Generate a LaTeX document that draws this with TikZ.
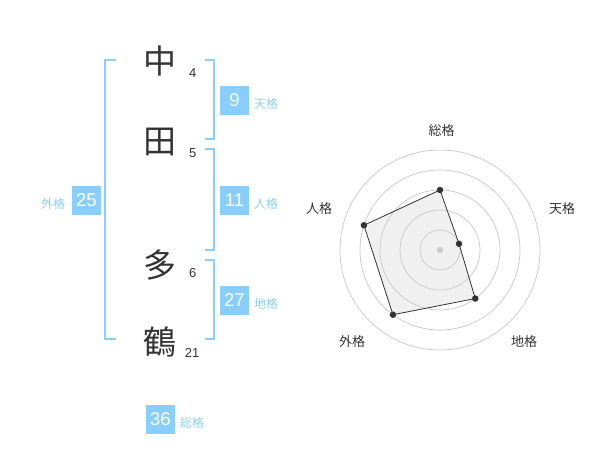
\documentclass[tikz,border=0pt]{standalone}
\usepackage{fontspec}
\setmainfont{Liberation Sans}
\newfontfamily\jp{Noto Sans CJK JP}
\definecolor{boxblue}{HTML}{88CEFF}
\definecolor{lblblue}{HTML}{8CCFF8}
\definecolor{ink}{HTML}{333333}
\definecolor{ringgray}{HTML}{CCCCCC}
\definecolor{polyfill}{HTML}{F0F0F0}
\tikzset{
  kanji/.style={font=\jp\fontsize{33}{33}\selectfont, text=ink, inner sep=0pt},
  stroke/.style={font=\fontsize{13}{13}\selectfont, text=ink, inner sep=0pt},
  numbox/.style={fill=boxblue, text=white, minimum width=29pt, minimum height=29pt, inner sep=0pt, font=\fontsize{18.5}{18.5}\selectfont},
  kaku/.style={font=\jp\fontsize{12}{12}\selectfont, text=lblblue, inner sep=0pt},
  bracket/.style={draw=boxblue, line width=2pt},
  ring/.style={draw=ringgray, line width=0.8pt},
  rlabel/.style={font=\jp\fontsize{13}{13}\selectfont, text=ink, inner sep=0pt},
  dot/.style={circle, fill=ink, minimum size=6.5pt, inner sep=0pt}
}
\begin{document}
\begin{tikzpicture}[x=1pt,y=-1pt]
\useasboundingbox (0,0) rectangle (600,470);
% characters
\node[kanji] (k1) at (160,61) {中};
\node[kanji] (k2) at (160,141.5) {田};
\node[kanji] (k3) at (160,265) {多};
\node[kanji] (k4) at (160,341.5) {鶴};
\node[stroke] (s1) at (192.7,72.7) {4};
\node[stroke] (s2) at (192.7,152.7) {5};
\node[stroke] (s3) at (192.7,272.7) {6};
\node[stroke] (s4) at (192.2,352.7) {21};
% brackets
\draw[bracket] (116,60) -- (105,60) -- (105,339.3) -- (116,339.3);
\draw[bracket] (205,60) -- (214.3,60) -- (214.3,139.3) -- (205,139.3);
\draw[bracket] (205,149.3) -- (214.3,149.3) -- (214.3,250) -- (205,250);
\draw[bracket] (205,260) -- (214.3,260) -- (214.3,339.3) -- (205,339.3);
% boxes
\node[numbox] (ten) at (234.5,100.5) {9};
\node[kaku] (tenl) at (266,104) {天格};
\node[numbox] (jin) at (234.5,200.5) {11};
\node[kaku] (jinl) at (266,204) {人格};
\node[numbox] (gai) at (86.5,200.5) {25};
\node[kaku] (gail) at (53,204) {外格};
\node[numbox] (chi) at (234.5,300.5) {27};
\node[kaku] (chil) at (266,304) {地格};
\node[numbox] (so) at (160.5,419.5) {36};
\node[kaku] (sol) at (192,423) {総格};
% radar
\begin{scope}[shift={(440,250)}]
  \coordinate (pS) at (-90:60);
  \coordinate (pT) at (-18:20);
  \coordinate (pC) at (54:60);
  \coordinate (pG) at (126:80);
  \coordinate (pJ) at (198:80);
  \fill[polyfill] (pS) -- (pT) -- (pC) -- (pG) -- (pJ) -- cycle;
  \foreach \r in {20,40,60,80,100} \draw[ring] (0,0) circle (\r);
  \fill[ringgray] (0,0) circle (3.2);
  \draw[draw=ink, line width=0.8pt] (pS) -- (pT) -- (pC) -- (pG) -- (pJ) -- cycle;
  \foreach \p in {pS,pT,pC,pG,pJ} \node[dot] at (\p) {};
\end{scope}
\node[rlabel] (lS) at (441.5,130.5) {総格};
\node[rlabel] (lT) at (562,209) {天格};
\node[rlabel] (lC) at (524,342) {地格};
\node[rlabel] (lG) at (352,342) {外格};
\node[rlabel] (lJ) at (319,209) {人格};
\end{tikzpicture}
\end{document}
